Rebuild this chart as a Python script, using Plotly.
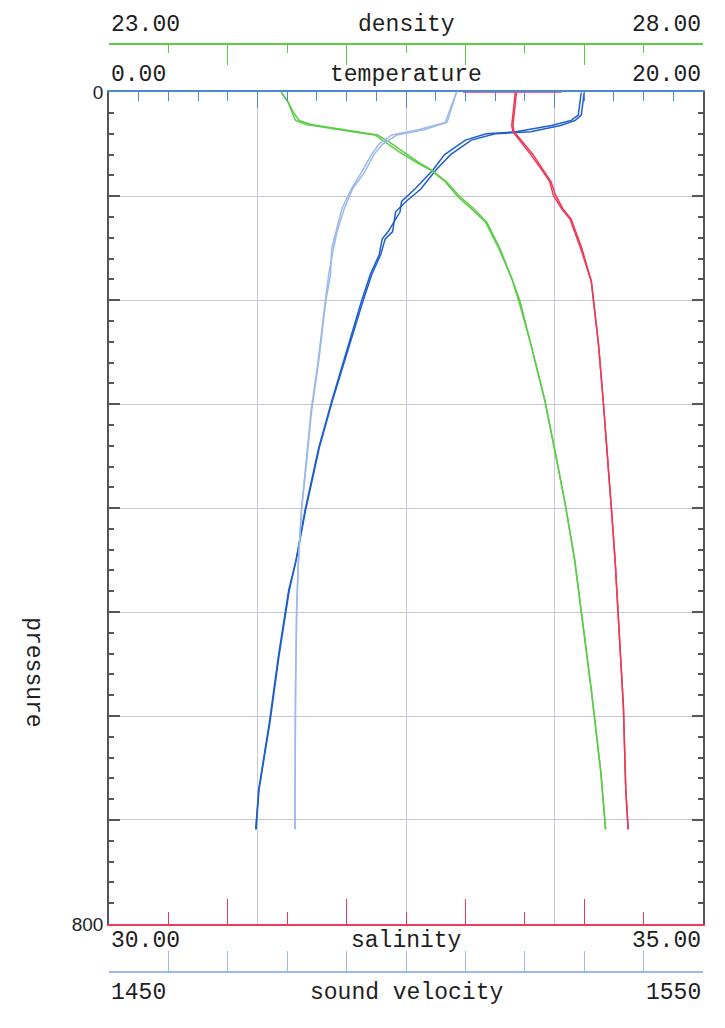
import plotly.graph_objects as go

# ---------------- data ----------------
temp_p = [0, 22, 27, 32, 38, 40, 46, 60, 75, 93, 105, 115, 134, 141, 156, 175, 201,
          242, 297, 342, 402, 450, 479, 543, 606, 671, 709]
temp_down = [15.9, 15.8, 15.56, 14.9, 13.7, 12.7, 12.0, 11.3, 10.9, 10.3, 9.85, 9.8,
             9.4, 9.2, 9.1, 8.8, 8.5, 8.07, 7.5, 7.06, 6.6, 6.3, 6.05, 5.7, 5.4, 5.04, 4.94]
temp_up = [16.0, 15.9, 15.7, 15.2, 14.2, 13.0, 12.2, 11.5, 11.0, 10.5, 10.0, 9.65,
           9.55, 9.3, 9.15, 8.85, 8.55, 8.1, 7.52, 7.08, 6.62, 6.3, 6.07, 5.72, 5.42, 5.05, 4.95]

sv_p = [0, 22, 29, 36, 41, 50, 60, 77, 93, 112, 134, 150, 175, 201, 259, 307, 354,
        402, 450, 495, 575, 709]
sv_down = [1508.5, 1507.1, 1506.6, 1502.1, 1497.6, 1495.4, 1494.2, 1492.5, 1490.8,
           1489.2, 1488.2, 1487.5, 1487.3, 1486.5, 1485.3, 1484.1, 1483.3, 1482.4,
           1481.9, 1481.6, 1481.4, 1481.3]
sv_up = [1508.5, 1507.3, 1506.9, 1503.0, 1498.5, 1496.0, 1494.6, 1493.0, 1491.0,
         1489.6, 1488.4, 1487.8, 1487.0, 1486.4, 1485.2, 1484.0, 1483.2, 1482.4,
         1481.9, 1481.6, 1481.4, 1481.3]

den_p = [0, 10, 19, 27, 31, 35, 40, 41, 48, 57, 67, 75, 86, 101, 112, 125, 150, 179,
         201, 242, 297, 348, 396, 450, 495, 575, 654, 709]
den_down = [24.45, 24.51, 24.54, 24.57, 24.66, 24.87, 25.16, 25.24, 25.33, 25.44, 25.58,
            25.71, 25.83, 25.94, 26.05, 26.17, 26.28, 26.39, 26.45, 26.55, 26.67, 26.76,
            26.84, 26.92, 26.97, 27.06, 27.14, 27.18]
den_up = [24.45, 24.51, 24.55, 24.60, 24.70, 24.92, 25.18, 25.26, 25.36, 25.47, 25.60,
          25.72, 25.84, 25.96, 26.07, 26.18, 26.29, 26.39, 26.46, 26.55, 26.67, 26.76,
          26.84, 26.92, 26.97, 27.06, 27.14, 27.18]

sal_p = [0, 22, 32, 38, 48, 60, 74, 86, 99, 112, 122, 134, 150, 182, 201, 242, 297,
         354, 402, 450, 511, 591, 671, 709]
sal_down = [33.42, 33.40, 33.39, 33.40, 33.47, 33.55, 33.64, 33.71, 33.74, 33.81, 33.88,
            33.92, 33.97, 34.06, 34.08, 34.12, 34.16, 34.20, 34.23, 34.26, 34.29, 34.33,
            34.35, 34.37]
sal_up = [33.43, 33.41, 33.40, 33.41, 33.48, 33.57, 33.65, 33.72, 33.76, 33.82, 33.89,
          33.93, 33.98, 34.06, 34.08, 34.12, 34.16, 34.20, 34.23, 34.26, 34.29, 34.33,
          34.35, 34.37]

temp_range = [0, 20]
den_range = [23, 28]
sal_range = [30, 35]
sv_range = [1450, 1550]
p_range = [800, 0]
temp_labels = ["0.00", "temperature", "20.00"]
den_labels = ["23.00", "density", "28.00"]
sal_labels = ["30.00", "salinity", "35.00"]
sv_labels = ["1450", "sound velocity", "1550"]

# ---------------- styling ----------------
W, H = 725, 1028
L, R, T, B = 109, 703, 84, 933
XD = [L / W, R / W]
YD = [1 - B / H, 1 - T / H]

C_TEMP = "#1f5fcc"
C_TEMP_AX = "#4f86d6"
C_SV = "#9db9ec"
C_DEN = "#5ccc48"
C_SAL = "#ec3a58"
C_GRID = "#c6c6d8"
C_AX = "#555555"
TXT = "#1e1e1e"
MONO = "Liberation Mono, Courier New, monospace"

fig = go.Figure()

def add_pair(xs1, xs2, ps, color, xa):
    for xs in (xs1, xs2):
        fig.add_trace(go.Scatter(x=xs, y=ps, mode="lines", xaxis=xa, yaxis="y",
                                 line=dict(color=color, width=1.5), showlegend=False,
                                 hoverinfo="skip"))

add_pair(sv_down, sv_up, sv_p, C_SV, "x4")
add_pair(den_down, den_up, den_p, C_DEN, "x2")
add_pair(sal_down, sal_up, sal_p, C_SAL, "x3")
add_pair(temp_down, temp_up, temp_p, C_TEMP, "x")

common = dict(domain=XD, showticklabels=False, zeroline=False, fixedrange=True,
              showline=True, linewidth=1.5, ticks="inside", tickwidth=1.3)

fig.update_layout(
    width=W, height=H,
    margin=dict(l=0, r=0, t=0, b=0),
    paper_bgcolor="white", plot_bgcolor="white",
    showlegend=False,
    xaxis=dict(range=temp_range, side="top", anchor="y", linecolor=C_TEMP_AX,
               tickcolor=C_TEMP_AX, tickmode="linear", tick0=0, dtick=5, ticklen=16,
               minor=dict(tickmode="linear", tick0=0, dtick=1, ticklen=9, ticks="inside",
                          tickcolor=C_TEMP_AX, showgrid=False),
               showgrid=True, gridcolor=C_GRID, gridwidth=1.2, **common),
    xaxis2=dict(range=den_range, side="top", anchor="free", overlaying="x",
                position=1 - 35 / H, linecolor=C_DEN, tickcolor=C_DEN,
                tickmode="linear", tick0=23, dtick=1, ticklen=20,
                minor=dict(tickmode="linear", tick0=23, dtick=0.5, ticklen=8,
                           ticks="inside", tickcolor=C_DEN, showgrid=False),
                showgrid=False, **common),
    xaxis3=dict(range=sal_range, side="bottom", anchor="y", overlaying="x",
                linecolor=C_SAL, tickcolor=C_SAL, tickmode="linear", tick0=30, dtick=1,
                ticklen=25,
                minor=dict(tickmode="linear", tick0=30, dtick=0.5, ticklen=12,
                           ticks="inside", tickcolor=C_SAL, showgrid=False),
                showgrid=False, **common),
    xaxis4=dict(range=sv_range, side="bottom", anchor="free", overlaying="x",
                position=1 - 982 / H, linecolor=C_SV, tickcolor=C_SV,
                tickmode="linear", tick0=1450, dtick=10, ticklen=20,
                showgrid=False, **common),
    yaxis=dict(range=p_range, domain=YD, anchor="x", showline=True, linecolor=C_AX,
               linewidth=1.5, mirror="ticks", ticks="inside", tickcolor=C_AX,
               tickwidth=1.5, ticklen=11, tickmode="array",
               tickvals=[0, 100, 200, 300, 400, 500, 600, 700, 800],
               ticktext=["0", "", "", "", "", "", "", "", "800"],
               tickfont=dict(family="Liberation Sans, Arial, sans-serif", size=19, color=TXT),
               minor=dict(tickmode="linear", tick0=0, dtick=20, ticklen=5, ticks="inside",
                          tickcolor=C_AX, showgrid=False),
               showgrid=True, gridcolor=C_GRID, gridwidth=1.2, zeroline=False,
               fixedrange=True),
)

# red pen trace along the top frame
fig.add_shape(type="line", xref="x3", yref="y", x0=32.98, x1=33.81, y0=0, y1=0,
              line=dict(color=C_SAL, width=1.6), layer="above")

def axis_labels(labels, rng, xref, ypx):
    yp = 1 - ypx / H
    mid = (rng[0] + rng[1]) / 2
    for txt, xv, anc in ((labels[0], rng[0], "left"), (labels[1], mid, "center"),
                         (labels[2], rng[1], "right")):
        fig.add_annotation(text=txt, x=xv, xref=xref, y=yp, yref="paper",
                           xanchor=anc, yanchor="middle", showarrow=False,
                           font=dict(family=MONO, size=23, color=TXT))

axis_labels(den_labels, den_range, "x2", 15)
axis_labels(temp_labels, temp_range, "x", 66)
axis_labels(sal_labels, sal_range, "x3", 950)
axis_labels(sv_labels, sv_range, "x4", 1003)

fig.add_annotation(text="pressure", x=33 / W, xref="paper", y=1 - 676 / H, yref="paper",
                   textangle=90, showarrow=False, xanchor="center", yanchor="middle",
                   font=dict(family=MONO, size=23, color=TXT))

fig.write_html("out.html", config={"displayModeBar": False},
               post_script="document.body.style.margin='0';document.body.style.overflow='hidden';")
